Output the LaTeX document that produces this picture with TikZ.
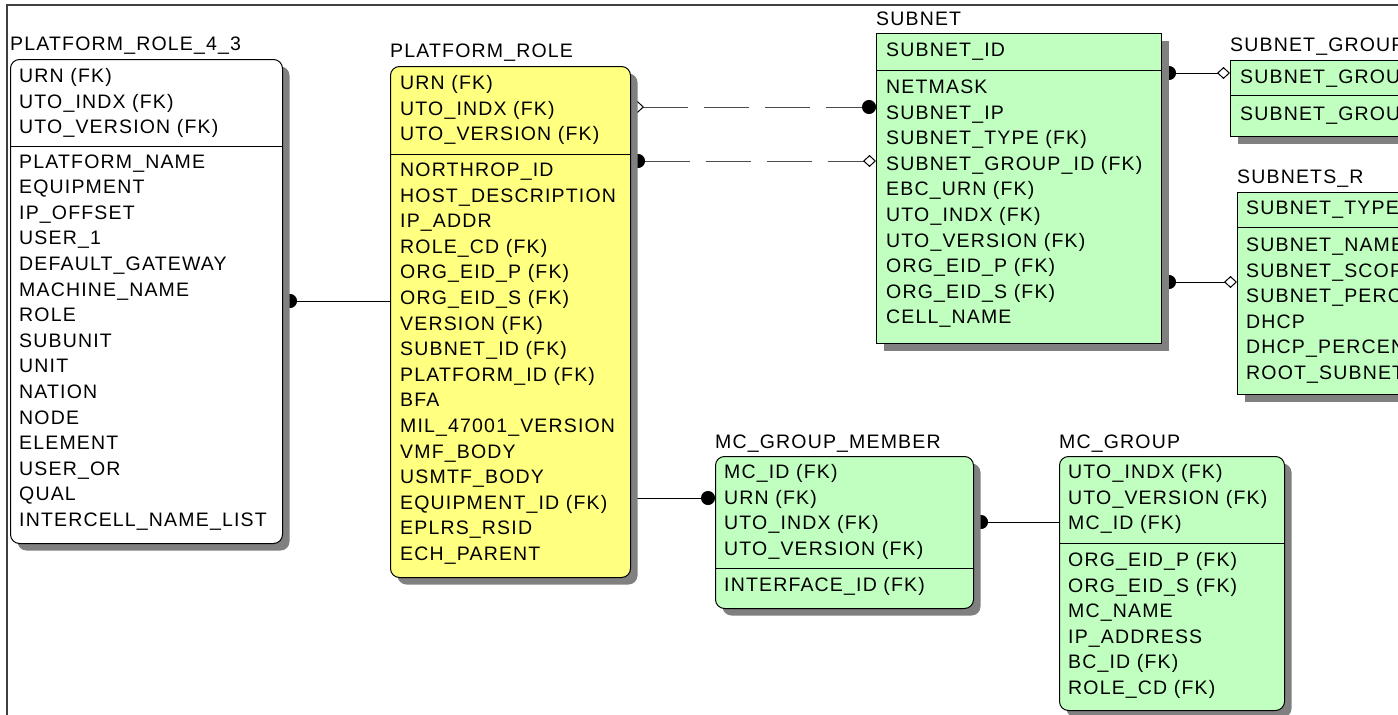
\documentclass[tikz,border=0pt]{standalone}
\usepackage{fontspec}
\setmainfont{Liberation Sans}[LetterSpace=6]
\usetikzlibrary{shadows,arrows.meta}

\definecolor{keyYellow}{RGB}{255,255,128}
\definecolor{tblGreen}{RGB}{192,255,192}
\definecolor{shadowGray}{RGB}{128,128,128}
\definecolor{frameGray}{RGB}{64,64,64}

\pgfdeclarelayer{links}
\pgfsetlayers{links,main}

\tikzset{
  ertable/.style={draw=black, line width=1pt, inner sep=0pt, anchor=north west, rectangle,
    drop shadow={shadow xshift=7pt, shadow yshift=-7pt, fill=shadowGray, opacity=1}},
  erindep/.style={ertable, fill=tblGreen},
  erdep/.style={ertable, rounded corners=9pt},
  ertitle/.style={anchor=base west, inner sep=0pt},
  erfield/.style={anchor=base west, inner sep=0pt},
  erdivider/.style={line width=0.9pt},
  erlink/.style={line width=1pt, black},
  eroptlink/.style={line width=1pt, black!70, dash pattern=on 45pt off 16pt},
  erframe/.style={line width=2pt, frameGray},
  erdot/.tip={Circle[length=14pt, color=black, fill=black]},
  erdiamond/.tip={Diamond[length=13pt, width=12pt, color=black, fill=white, line width=1pt]},
}

\begin{document}
\begin{tikzpicture}[x=1pt, y=-1pt,
  every node/.style={font=\fontsize{19.5pt}{23pt}\selectfont}]
\useasboundingbox (0,0) rectangle (1398,715);
\clip (0,0) rectangle (1398,715);
\draw[erframe] (7,720) -- (7,5) -- (1405,5);

% PLATFORM_ROLE_4_3
\node[ertitle] (pr43-t) at (10,50) {PLATFORM\_ROLE\_4\_3};
\node[erdep, fill=white, minimum width=272pt, minimum height=484pt] (pr43) at (10,59) {};
\draw[erdivider] ([yshift=-87pt]pr43.north west) -- ([yshift=-87pt]pr43.north east);
\foreach \t [count=\i] in {URN (FK), UTO\_INDX (FK), UTO\_VERSION (FK)}
  \node[erfield] (pr43-k\i) at (19,{82.5+25.6*(\i-1)}) {\t};
\foreach \t [count=\i] in {PLATFORM\_NAME, EQUIPMENT, IP\_OFFSET, USER\_1,
    DEFAULT\_GATEWAY, MACHINE\_NAME, ROLE, SUBUNIT, UNIT, NATION, NODE,
    ELEMENT, USER\_OR, QUAL, INTERCELL\_NAME\_LIST}
  \node[erfield] (pr43-a\i) at (19,{168+25.6*(\i-1)}) {\t};

% PLATFORM_ROLE
\node[ertitle] (pr-t) at (390,57) {PLATFORM\_ROLE};
\node[erdep, fill=keyYellow, minimum width=240pt, minimum height=511pt] (pr) at (390,66) {};
\draw[erdivider] ([yshift=-88pt]pr.north west) -- ([yshift=-88pt]pr.north east);
\foreach \t [count=\i] in {URN (FK), UTO\_INDX (FK), UTO\_VERSION (FK)}
  \node[erfield] (pr-k\i) at (400,{89.5+25.6*(\i-1)}) {\t};
\foreach \t [count=\i] in {NORTHROP\_ID, HOST\_DESCRIPTION, IP\_ADDR, ROLE\_CD (FK),
    ORG\_EID\_P (FK), ORG\_EID\_S (FK), VERSION (FK), SUBNET\_ID (FK),
    PLATFORM\_ID (FK), BFA, MIL\_47001\_VERSION, VMF\_BODY, USMTF\_BODY,
    EQUIPMENT\_ID (FK), EPLRS\_RSID, ECH\_PARENT}
  \node[erfield] (pr-a\i) at (400,{176.5+25.6*(\i-1)}) {\t};

% SUBNET
\node[ertitle] (subnet-t) at (876,25.5) {SUBNET};
\node[erindep, minimum width=285pt, minimum height=310pt] (subnet) at (876,33) {};
\draw[erdivider] ([yshift=-37pt]subnet.north west) -- ([yshift=-37pt]subnet.north east);
\node[erfield] (subnet-k1) at (886,56.5) {SUBNET\_ID};
\foreach \t [count=\i] in {NETMASK, SUBNET\_IP, SUBNET\_TYPE (FK), SUBNET\_GROUP\_ID (FK),
    EBC\_URN (FK), UTO\_INDX (FK), UTO\_VERSION (FK), ORG\_EID\_P (FK),
    ORG\_EID\_S (FK), CELL\_NAME}
  \node[erfield] (subnet-a\i) at (886,{93.5+25.6*(\i-1)}) {\t};

% SUBNET_GROUP
\node[ertitle] (sg-t) at (1230,51) {SUBNET\_GROUP};
\node[erindep, minimum width=230pt, minimum height=76pt] (sg) at (1230,60) {};
\draw[erdivider] ([yshift=-35pt]sg.north west) -- ([yshift=-35pt]sg.north east);
\node[erfield] (sg-k1) at (1240,83.5) {SUBNET\_GROUP\_ID};
\node[erfield] (sg-a1) at (1240,120.5) {SUBNET\_GROUP\_NAME};

% SUBNETS_R
\node[ertitle] (sr-t) at (1237,183) {SUBNETS\_R};
\node[erindep, minimum width=230pt, minimum height=202pt] (sr) at (1237,192) {};
\draw[erdivider] ([yshift=-35pt]sr.north west) -- ([yshift=-35pt]sr.north east);
\node[erfield] (sr-k1) at (1246,214.5) {SUBNET\_TYPE};
\foreach \t [count=\i] in {SUBNET\_NAME, SUBNET\_SCOPE, SUBNET\_PERCENT, DHCP,
    DHCP\_PERCENT, ROOT\_SUBNET}
  \node[erfield] (sr-a\i) at (1246,{251.5+25.6*(\i-1)}) {\t};

% MC_GROUP_MEMBER
\node[ertitle] (mcgm-t) at (715,448) {MC\_GROUP\_MEMBER};
\node[erdep, fill=tblGreen, minimum width=258pt, minimum height=152pt] (mcgm) at (715,456) {};
\draw[erdivider] ([yshift=-112pt]mcgm.north west) -- ([yshift=-112pt]mcgm.north east);
\foreach \t [count=\i] in {MC\_ID (FK), URN (FK), UTO\_INDX (FK), UTO\_VERSION (FK)}
  \node[erfield] (mcgm-k\i) at (724,{478.5+25.6*(\i-1)}) {\t};
\node[erfield] (mcgm-a1) at (724,591.5) {INTERFACE\_ID (FK)};

% MC_GROUP
\node[ertitle] (mcg-t) at (1059,448) {MC\_GROUP};
\node[erdep, fill=tblGreen, minimum width=225pt, minimum height=254pt] (mcg) at (1059,456) {};
\draw[erdivider] ([yshift=-87pt]mcg.north west) -- ([yshift=-87pt]mcg.north east);
\foreach \t [count=\i] in {UTO\_INDX (FK), UTO\_VERSION (FK), MC\_ID (FK)}
  \node[erfield] (mcg-k\i) at (1068,{478.5+25.6*(\i-1)}) {\t};
\foreach \t [count=\i] in {ORG\_EID\_P (FK), ORG\_EID\_S (FK), MC\_NAME, IP\_ADDRESS,
    BC\_ID (FK), ROLE\_CD (FK)}
  \node[erfield] (mcg-a\i) at (1068,{566.5+25.6*(\i-1)}) {\t};

% relationships, drawn beneath the tables and their shadows
\begin{pgfonlayer}{links}
\draw[erlink, {erdot}-] ([yshift=-242pt]pr43.north east) -- ([yshift=-235pt]pr.north west);
\draw[eroptlink, {erdiamond}-{erdot}] ([yshift=-41pt]pr.north east) -- ([yshift=-74pt]subnet.north west);
\draw[eroptlink, {erdot}-{erdiamond}] ([yshift=-95pt]pr.north east) -- ([yshift=-128pt]subnet.north west);
\draw[erlink, {erdot}-{erdiamond}] ([yshift=-40pt]subnet.north east) -- ([yshift=-13pt]sg.north west);
\draw[erlink, {erdot}-{erdiamond}] ([yshift=-249pt]subnet.north east) -- ([yshift=-90pt]sr.north west);
\draw[erlink, -{erdot}] ([yshift=-432pt]pr.north east) -- ([yshift=-42pt]mcgm.north west);
\draw[erlink, {erdot}-] ([yshift=-66pt]mcgm.north east) -- ([yshift=-66pt]mcg.north west);
\end{pgfonlayer}
\end{tikzpicture}
\end{document}
